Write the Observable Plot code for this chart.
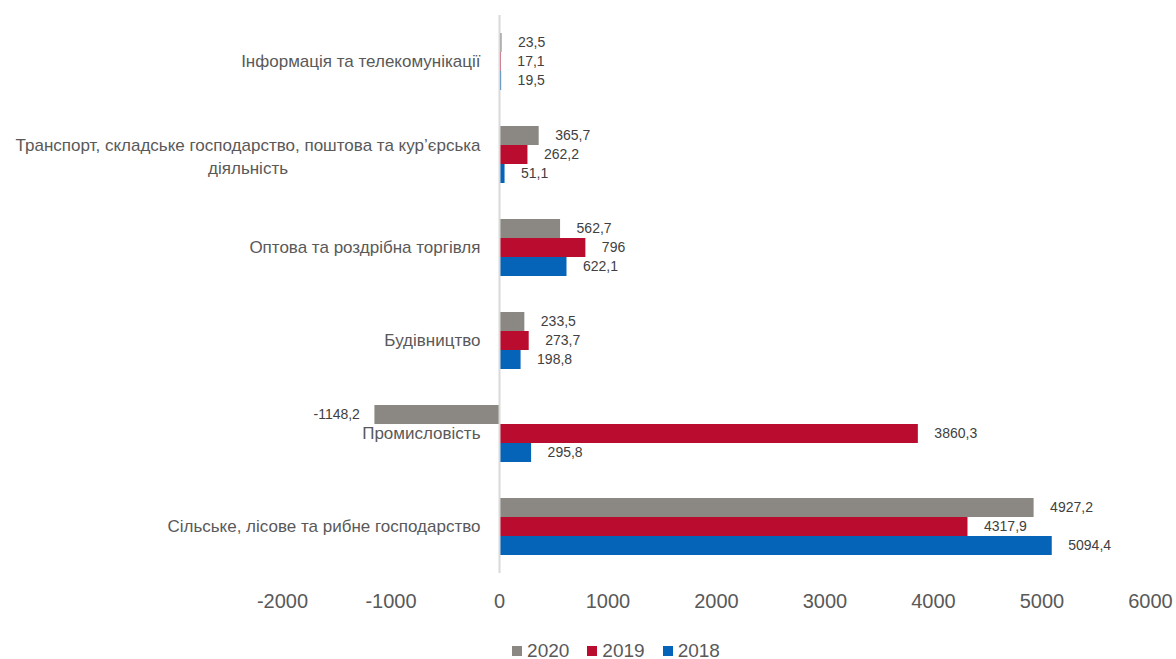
<!DOCTYPE html>
<html>
<head>
<meta charset="utf-8">
<script src="https://cdn.jsdelivr.net/npm/d3@7"></script>
<script src="https://cdn.jsdelivr.net/npm/@observablehq/plot@0.6"></script>
<style>
  html, body { margin: 0; padding: 0; background: #fff; }
  body { width: 1176px; height: 659px; overflow: hidden; font-family: "Liberation Sans", Arial, sans-serif; }
  #legend { display: flex; justify-content: center; align-items: center; height: 21px; margin-top: 4px; margin-left: 56px; font-size: 19px; color: #595959; }
  .item { display: flex; align-items: center; margin: 0 9px; }
  .sw { width: 10px; height: 10px; margin-right: 5px; }
</style>
</head>
<body>
<div id="chart"></div>
<div id="legend"></div>
<script>
// ---- data ----
const categories = [
  "Інформація та телекомунікації",
  "Транспорт, складське господарство, поштова та кур’єрська діяльність",
  "Оптова та роздрібна торгівля",
  "Будівництво",
  "Промисловість",
  "Сільське, лісове та рибне господарство"
];
const categoryLines = [
  ["Інформація та телекомунікації"],
  ["Транспорт, складське господарство, поштова та кур’єрська", "діяльність"],
  ["Оптова та роздрібна торгівля"],
  ["Будівництво"],
  ["Промисловість"],
  ["Сільське, лісове та рибне господарство"]
];
const years = ["2020", "2019", "2018"];
const values2020 = [23.5, 365.7, 562.7, 233.5, -1148.2, 4927.2];
const values2019 = [17.1, 262.2, 796, 273.7, 3860.3, 4317.9];
const values2018 = [19.5, 51.1, 622.1, 198.8, 295.8, 5094.4];
const xTicks = [-2000, -1000, 0, 1000, 2000, 3000, 4000, 5000, 6000];
const colors = ["#8b8782", "#ba0c2f", "#0563b8"];

// ---- build table ----
const seriesValues = [values2020, values2019, values2018];
const rows = [];
categories.forEach((c, i) => {
  years.forEach((y, j) => rows.push({category: c, year: y, value: seriesValues[j][i]}));
});
const fmt = v => String(v).replace(".", ",");

const FONT = '"Liberation Sans", Arial, sans-serif';
const catFont = 17;
const ctx = document.createElement("canvas").getContext("2d");
ctx.font = `${catFont}px ${FONT}`;

const marginLeft = 282;
const labelRight = 480; // right edge of category labels

const single = categories.filter((c, i) => categoryLines[i].length === 1);
const wrapped = categories.filter((c, i) => categoryLines[i].length > 1);
const wrapIdx = wrapped.map(c => categories.indexOf(c));
const w1 = wrapIdx.length ? ctx.measureText(categoryLines[wrapIdx[0]][0]).width : 0;

const chart = Plot.plot({
  width: 1176,
  height: 636,
  marginLeft: marginLeft,
  marginRight: 26,
  marginTop: 13,
  marginBottom: 61,
  style: {fontFamily: FONT, background: "#fff", overflow: "visible"},
  x: {domain: [-2000, 6000], label: null},
  fy: {domain: categories, padding: 0, axis: null},
  y: {domain: years, paddingInner: 0, paddingOuter: 0.875, axis: null},
  color: {domain: years, range: colors},
  marks: [
    Plot.barX(rows, {x: "value", y: "year", fy: "category", fill: "year"}),
    Plot.ruleX([0], {stroke: "#d9d9d9", strokeWidth: 2}),
    Plot.text(rows.filter(d => d.value >= 0), {
      x: "value", y: "year", fy: "category", text: d => fmt(d.value),
      textAnchor: "start", dx: 16, fill: "#404040", fontSize: 14
    }),
    Plot.text(rows.filter(d => d.value < 0), {
      x: "value", y: "year", fy: "category", text: d => fmt(d.value),
      textAnchor: "end", dx: -15, fill: "#404040", fontSize: 14
    }),
    Plot.text(single, {
      fy: d => d, frameAnchor: "left", dx: labelRight - marginLeft,
      text: d => d, textAnchor: "end", fill: "#595959", fontSize: catFont
    }),
    Plot.text(wrapped, {
      fy: d => d, frameAnchor: "left", dx: labelRight - marginLeft - w1 / 2,
      text: d => categoryLines[categories.indexOf(d)].join("\n"),
      textAnchor: "middle", lineHeight: 1.35, fill: "#595959", fontSize: catFont
    }),
    Plot.axisX({
      ticks: xTicks, tickSize: 0, tickPadding: 20, fontSize: 20,
      fill: "#595959", tickFormat: d => String(d), label: null
    })
  ]
});
document.getElementById("chart").appendChild(chart);

// ---- legend ----
const legend = document.getElementById("legend");
years.forEach((y, j) => {
  const item = document.createElement("div");
  item.className = "item";
  const sw = document.createElement("div");
  sw.className = "sw";
  sw.style.background = colors[j];
  const t = document.createElement("span");
  t.textContent = y;
  item.appendChild(sw);
  item.appendChild(t);
  legend.appendChild(item);
});
</script>
</body>
</html>
